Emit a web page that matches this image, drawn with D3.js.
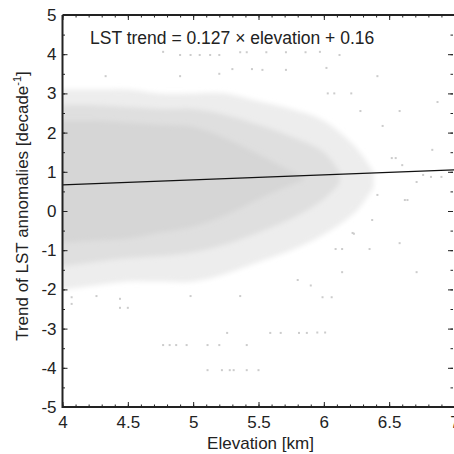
<!DOCTYPE html>
<html>
<head>
<meta charset="utf-8">
<script src="https://cdn.jsdelivr.net/npm/d3@7"></script>
<style>
  body { margin: 0; background: #fff; }
  text { font-family: "Liberation Sans", Arial, sans-serif; fill: #222; }
</style>
</head>
<body>
<div id="chart"></div>
<script>
// fitted line printed on the chart
const fitSlope = 0.127, fitIntercept = 0.16

// dense core of the point cloud (solid)
const coreElev = [4.0, 4.25, 4.5, 4.75, 5.0, 5.25, 5.5, 5.7, 5.85]
const coreHigh = [2.3, 2.3, 2.25, 2.2, 2.15, 1.85, 1.45, 1.1, 0.85]
const coreLow = [-0.8, -0.75, -0.7, -0.55, -0.4, -0.1, 0.3, 0.6, 0.8]

// speckled fringe around the core
const fringeElev = [4.0, 4.25, 4.5, 4.75, 5.0, 5.25, 5.5, 5.75, 6.0, 6.12]
const fringeHigh = [2.7, 2.7, 2.65, 2.6, 2.6, 2.45, 2.2, 1.9, 1.5, 1.0]
const fringeLow = [-1.4, -1.3, -1.2, -1.15, -1.05, -0.85, -0.55, -0.2, 0.3, 0.7]

// sparse outer halo
const haloElev = [4.0, 4.25, 4.5, 4.75, 5.0, 5.25, 5.5, 5.75, 6.0, 6.25, 6.38]
const haloHigh = [3.1, 3.1, 3.1, 3.0, 3.0, 3.0, 2.8, 2.6, 2.3, 1.6, 1.0]
const haloLow = [-2.0, -1.9, -1.8, -1.8, -1.8, -1.6, -1.3, -1.0, -0.6, 0.0, 0.6]

// isolated points outside the cloud
const outlierElev = [4.77, 4.9, 4.98, 5.05, 5.13, 5.2, 5.36, 5.41, 5.56, 5.71, 5.86, 5.97, 6.12,
  4.33, 4.9, 5.3, 5.45, 5.53, 5.71, 6.02, 6.41, 5.2,
  6.03, 6.08, 6.21, 6.87, 6.58, 6.28, 6.45, 6.83, 6.52, 6.55, 6.6, 6.76, 6.9, 6.82, 6.71,
  6.62, 6.64, 6.41, 6.37, 6.58, 6.35, 6.22, 6.14, 6.09, 6.14, 6.71, 5.99, 6.06, 5.95, 6.01,
  4.07, 4.07, 4.26, 4.44, 4.44, 4.5, 4.98, 4.77, 4.82, 4.87, 4.95, 5.11, 5.2, 5.11, 5.22,
  5.28, 5.31, 5.41, 5.5, 5.41, 5.26, 5.59, 5.67, 5.81, 5.87, 5.36, 5.8, 6.23, 5.9]
const outlierTrend = [4.06, 3.98, 3.98, 3.98, 3.98, 3.98, 4.05, 4.05, 4.05, 4.05, 4.05, 4.06, 3.98,
  3.44, 3.44, 3.62, 3.62, 3.6, 3.6, 3.65, 3.44, 3.5,
  3.0, 3.0, 3.0, 2.78, 2.55, 2.55, 2.17, 1.56, 1.35, 1.35, 1.17, 0.92, 0.87, 0.87, 0.74,
  0.28, 0.28, 0.41, -0.23, -0.82, -0.97, -0.56, -0.97, -0.97, -1.56, -1.56, -2.2, -2.2, -3.1, -3.1,
  -2.2, -2.37, -2.17, -2.24, -2.47, -2.47, -2.17, -3.42, -3.42, -3.42, -3.42, -3.42, -3.42, -4.06, -4.06,
  -4.06, -4.06, -4.06, -4.06, -3.42, -3.11, -3.11, -3.11, -3.11, -3.11, -2.17, -1.76, -0.58, -1.9]

const xTicks = [4, 4.5, 5, 5.5, 6, 6.5, 7]
const yTicks = [-5, -4, -3, -2, -1, 0, 1, 2, 3, 4, 5]

const width = 454, height = 454
const plotLeft = 62.5, plotRight = 454.5, plotTop = 15, plotBottom = 407

let svg = d3.select('#chart').append('svg')
  .attr('width', width)
  .attr('height', height)

// soften band edges so the cloud fades like scattered dots
svg.append('defs').append('filter')
  .attr('id', 'soft')
  .attr('x', '-10%').attr('y', '-10%').attr('width', '120%').attr('height', '120%')
  .append('feGaussianBlur')
  .attr('stdDeviation', 2.5)

const x = d3.scaleLinear().domain([4, 7]).range([plotLeft, plotRight])
const y = d3.scaleLinear().domain([-5, 5]).range([plotBottom, plotTop])

svg.append('clipPath').attr('id', 'plotclip')
  .append('rect')
  .attr('x', plotLeft).attr('y', plotTop)
  .attr('width', plotRight - plotLeft).attr('height', plotBottom - plotTop)

let cloud = svg.append('g').attr('clip-path', 'url(#plotclip)')

let band = (elev, hi, lo, fill) => {
  const rows = elev.map((e, i) => ({px: x(e), hi: hi[i], lo: lo[i]}))
  // carry the first column past the left axis so the blur does not fade it
  rows.unshift({px: x(elev[0]) - 12, hi: hi[0], lo: lo[0]})
  const area = d3.area()
    .x(d => d.px)
    .y0(d => y(d.lo))
    .y1(d => y(d.hi))
    .curve(d3.curveCatmullRom)
  cloud.append('path')
    .datum(rows)
    .attr('d', area)
    .attr('fill', fill)
    .attr('filter', 'url(#soft)')
}

band(haloElev, haloHigh, haloLow, '#ededed')
band(fringeElev, fringeHigh, fringeLow, '#dfdfdf')
band(coreElev, coreHigh, coreLow, '#d6d6d6')

cloud.selectAll('rect.pt')
  .data(outlierElev)
  .enter()
  .append('rect')
  .attr('class', 'pt')
  .attr('x', d => x(d) - 1)
  .attr('y', (d, i) => y(outlierTrend[i]) - 1)
  .attr('width', 2)
  .attr('height', 2)
  .attr('fill', '#cccccc')

// fit line
svg.append('line')
  .attr('x1', x(4)).attr('y1', y(fitSlope * 4 + fitIntercept))
  .attr('x2', x(7)).attr('y2', y(fitSlope * 7 + fitIntercept))
  .attr('stroke', '#111')
  .attr('stroke-width', 1.2)

// axes, ticks pointing inward
let fmt = d => String(d)
let addAxis = (axis, transform, vals, size, labels) => {
  const g = svg.append('g')
    .attr('transform', transform)
    .call(axis.tickValues(vals).tickSizeInner(size).tickSizeOuter(0)
      .tickFormat(labels ? fmt : ''))
  g.select('.domain').remove()
  g.selectAll('line').attr('stroke', '#222')
  g.selectAll('text').attr('font-size', 17).attr('fill', '#222')
  return g
}
const xMinor = d3.range(40, 71).map(v => v / 10)
const yMinor = d3.range(-10, 11).map(v => v / 2)

let bx = addAxis(d3.axisBottom(x), `translate(0,${plotBottom})`, xTicks, -5, true)
bx.selectAll('text').attr('y', 8).attr('dy', '0.75em')
addAxis(d3.axisBottom(x), `translate(0,${plotBottom})`, xMinor, -2.5, false)
addAxis(d3.axisTop(x), `translate(0,${plotTop})`, xTicks, -5, false)
addAxis(d3.axisTop(x), `translate(0,${plotTop})`, xMinor, -2.5, false)
let ly = addAxis(d3.axisLeft(y), `translate(${plotLeft},0)`, yTicks, -5, true)
ly.selectAll('text').attr('x', -6)
addAxis(d3.axisLeft(y), `translate(${plotLeft},0)`, yMinor, -2.5, false)
addAxis(d3.axisRight(y), `translate(${plotRight - 1.5},0)`, yTicks, -5, false)
addAxis(d3.axisRight(y), `translate(${plotRight - 1.5},0)`, yMinor, -2.5, false)

// frame
svg.append('path')
  .attr('d', `M${plotLeft},${plotTop}H${plotRight}M${plotLeft},${plotTop}V${plotBottom}H${plotRight}`)
  .attr('fill', 'none')
  .attr('stroke', '#222')
  .attr('stroke-width', 2)

svg.append('text')
  .attr('x', 90).attr('y', 44)
  .attr('font-size', 17.5)
  .text('LST trend = 0.127 \u00d7 elevation + 0.16')

svg.append('text')
  .attr('x', (plotLeft + plotRight) / 2 + 2).attr('y', 449)
  .attr('text-anchor', 'middle')
  .attr('font-size', 17)
  .text('Elevation [km]')

let yt = svg.append('text')
  .attr('transform', 'translate(28,206) rotate(-90)')
  .attr('text-anchor', 'middle')
  .attr('font-size', 17)
yt.append('tspan').text('Trend of LST annomalies [decade')
yt.append('tspan').attr('dy', -7).attr('font-size', 11).text('-1')
yt.append('tspan').attr('dy', 7).text(']')
</script>
</body>
</html>
